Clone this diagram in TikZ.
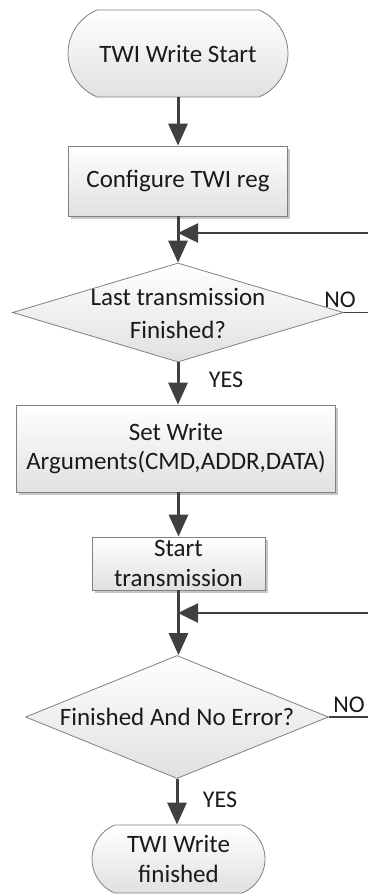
\documentclass[tikz,border=0pt]{standalone}
\usepackage{fontspec}
\setmainfont{Carlito}
\usetikzlibrary{arrows.meta,shapes.geometric,shapes.misc,shadows}
\definecolor{linec}{HTML}{404040}
\definecolor{edgec}{HTML}{808080}
\definecolor{textc}{HTML}{1A1A1A}
\tikzset{
  base/.style={draw=edgec, line width=0.8pt, top color=white, bottom color=black!12, inner sep=0pt, align=center,
    text=textc, font=\fontsize{25}{29.5}\selectfont},
  procbox/.style={base, rectangle,
    drop shadow={shadow xshift=2.5pt, shadow yshift=-2.5pt, opacity=0.22, fill=black}},
  termbox/.style={base, rounded rectangle, rounded rectangle arc length=135},
  decbox/.style={base, diamond},
  txt/.style={inner sep=0pt, align=center, text=textc, font=\fontsize{25}{33}\selectfont},
  lbl/.style={inner sep=0pt, text=textc, font=\fontsize{24}{28}\selectfont},
  flow/.style={draw=linec, line width=3pt, -{Triangle[length=22pt,width=19pt]}},
  back/.style={draw=linec, line width=2.5pt, -{Triangle[length=20pt,width=19pt]}},
  noline/.style={draw=linec, line width=1.8pt},
}
\begin{document}
\begin{tikzpicture}[x=1pt,y=-1pt]
\useasboundingbox (0,0) rectangle (368,895);
\fill[white] (0,0) rectangle (368,895);
% nodes
\node[termbox, minimum width=220pt, minimum height=87pt] (start) at (178,53.5) {TWI Write Start};
\node[procbox, minimum width=219pt, minimum height=70pt] (cfg) at (178,181) {Configure TWI reg};
\node[decbox, minimum width=331pt, minimum height=99pt] (d1) at (178,312.5) {};
\node[txt] (d1t) at (178,313.5) {Last transmission\\Finished?};
\node[procbox, minimum width=319pt, minimum height=87pt] (sw) at (176,448.5) {Set Write\\Arguments(CMD,ADDR,DATA)};
\node[procbox, minimum width=173pt, minimum height=53pt] (st) at (178.5,563.5) {Start\\transmission};
\node[decbox, minimum width=303pt, minimum height=123pt] (d2) at (177,717) {};
\node[txt] (d2t) at (177,717) {Finished And No Error?};
\node[termbox, minimum width=173pt, minimum height=68pt] (fin) at (178.5,859) {TWI Write\\finished};
% labels
\node[lbl] (yes1) at (226,380) {YES};
\node[lbl] (yes2) at (220,800) {YES};
\node[lbl] (no1) at (340,300) {NO};
\node[lbl] (no2) at (349,705) {NO};
% coordinates
\coordinate (j1) at (178,233);
\coordinate (j2) at (178,613);
\coordinate (r1) at (368,233);
\coordinate (r2) at (368,613);
\coordinate (n1) at (368,312.5);
\coordinate (n2) at (368,717);
% connectors
\draw[flow] (start.south) -- (cfg.north);
\draw[flow] (cfg.south) -- (d1.north);
\draw[back] (r1) -- (j1);
\draw[noline] (d1.east) -- (n1);
\draw[flow] (d1.south) -- (d1.south |- sw.north);
\draw[flow] (st.north |- sw.south) -- (st.north);
\draw[flow] (st.south) -- (st.south |- d2.north);
\draw[back] (r2) -- (j2);
\draw[noline] (d2.east) -- (n2);
\draw[flow] (d2.south) -- (d2.south |- fin.north);
\end{tikzpicture}
\end{document}
